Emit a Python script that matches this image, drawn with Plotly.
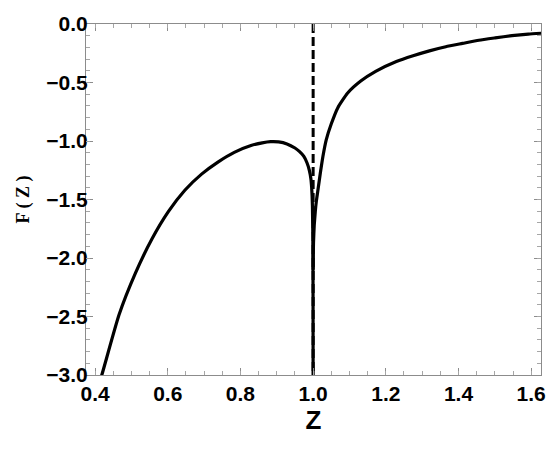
import plotly.graph_objects as go

# Left branch (z < 1)
z_left = [0.410, 0.4185, 0.4657, 0.511, 0.556, 0.602, 0.647, 0.693, 0.738, 0.783,
          0.829, 0.860, 0.883, 0.905, 0.928, 0.950, 0.962, 0.974, 0.983, 0.9895,
          0.9937, 0.996, 0.998, 0.9993, 0.9998, 1.0]
F_left = [-3.08, -3.0, -2.488, -2.13, -1.84, -1.602, -1.421, -1.283, -1.180, -1.097,
          -1.039, -1.016, -1.006, -1.008, -1.025, -1.060, -1.089, -1.130, -1.186, -1.250,
          -1.320, -1.40, -1.55, -1.85, -2.35, -3.3]

# Right branch (z > 1)
z_right = [1.0, 1.0004, 1.001, 1.003, 1.006, 1.009, 1.0136, 1.020, 1.027, 1.036, 1.050,
           1.068, 1.095, 1.131, 1.172, 1.229, 1.275, 1.320, 1.365, 1.411, 1.456,
           1.501, 1.547, 1.592, 1.632]
F_right = [-2.10, -1.97, -1.87, -1.72, -1.60, -1.51, -1.41, -1.27, -1.13, -0.99, -0.853,
           -0.715, -0.590, -0.488, -0.405, -0.321, -0.272, -0.230, -0.194, -0.166, -0.139,
           -0.119, -0.100, -0.086, -0.078]

# Vertical marker at z = 1
z_mark = [1.0, 1.0]
F_mark = [0.0, -3.0]

x_ticks = [0.4, 0.6, 0.8, 1.0, 1.2, 1.4, 1.6]
y_ticks = [0.0, -0.5, -1.0, -1.5, -2.0, -2.5, -3.0]

X_RANGE = [0.375, 1.627]
Y_RANGE = [-3.0, 0.0]

fig = go.Figure()
# invisible trace that anchors the overlay axes carrying the minor ticks
fig.add_trace(go.Scatter(x=z_mark, y=F_mark, mode="lines", xaxis="x2", yaxis="y2",
                         line=dict(color="rgba(0,0,0,0)", width=0),
                         hoverinfo="skip", showlegend=False))
fig.add_trace(go.Scatter(x=z_mark, y=F_mark, mode="lines",
                         line=dict(color="black", width=3, dash="9px,4px"),
                         hoverinfo="skip", showlegend=False))
fig.add_trace(go.Scatter(x=z_left, y=F_left, mode="lines",
                         line=dict(color="black", width=3.2, shape="spline", smoothing=0.5),
                         showlegend=False))
fig.add_trace(go.Scatter(x=z_right, y=F_right, mode="lines",
                         line=dict(color="black", width=3.2, shape="spline", smoothing=0.5),
                         showlegend=False))

tick_font = dict(family="Liberation Sans, Arial", size=21, color="black", weight="bold")

fig.update_layout(
    width=558, height=450,
    margin=dict(l=86, r=12, t=14, b=75),
    paper_bgcolor="white", plot_bgcolor="white",
    xaxis=dict(
        showgrid=False, zeroline=False,
        showline=True, linecolor="#8c8c8c", linewidth=1, mirror="allticks",
        ticks="inside", ticklen=7, tickwidth=1, tickcolor="#8c8c8c",
        tickfont=tick_font,
        range=X_RANGE,
        tickmode="array", tickvals=x_ticks, ticktext=[f"{v:.1f}" for v in x_ticks],
        title=dict(text="Z", font=dict(family="Liberation Sans, Arial", size=26, color="black", weight="bold"),
                   standoff=6),
    ),
    yaxis=dict(
        showgrid=False, zeroline=False,
        showline=True, linecolor="#8c8c8c", linewidth=1, mirror="allticks",
        ticks="inside", ticklen=7, tickwidth=1, tickcolor="#8c8c8c",
        tickfont=tick_font,
        range=Y_RANGE,
        tickmode="array", tickvals=y_ticks, ticktext=[f"{v:.1f}".replace("-", "\u2212") for v in y_ticks],
        ticklabelstandoff=-7,
        title=dict(text="F ( Z )", font=dict(family="Liberation Serif, Times New Roman", size=18, color="black", weight="bold"),
                   standoff=12),
    ),
    xaxis2=dict(
        overlaying="x", side="bottom", anchor="y2",
        range=X_RANGE, showgrid=False, zeroline=False, showline=False,
        mirror="allticks", ticks="inside", ticklen=4, tickwidth=1, tickcolor="#a6a6a6",
        tickmode="linear", tick0=0.4, dtick=0.05, showticklabels=False,
    ),
    yaxis2=dict(
        overlaying="y", side="left", anchor="x2",
        range=Y_RANGE, showgrid=False, zeroline=False, showline=False,
        mirror="allticks", ticks="inside", ticklen=4, tickwidth=1, tickcolor="#a6a6a6",
        tickmode="linear", tick0=0.0, dtick=0.1, showticklabels=False,
    ),
)

fig.write_html("out.html")
